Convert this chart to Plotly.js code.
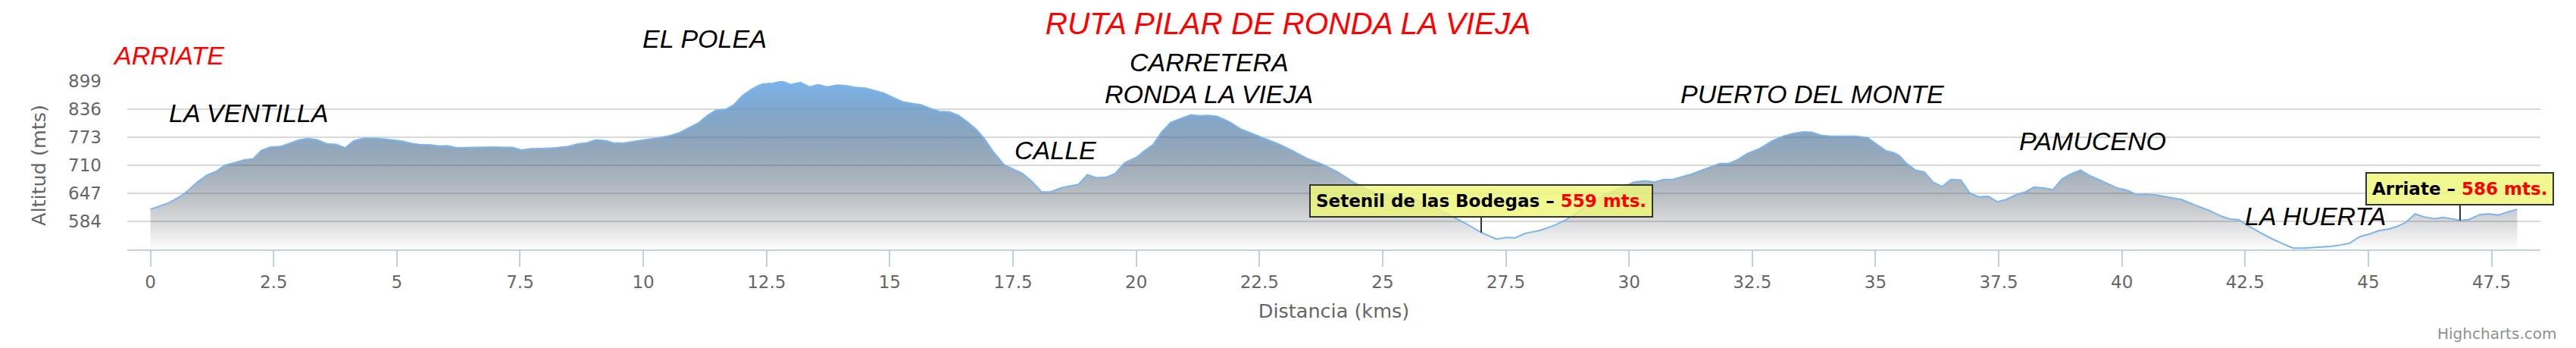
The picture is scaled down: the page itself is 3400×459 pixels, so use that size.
<!DOCTYPE html>
<html>
<head>
<meta charset="utf-8">
<script src="https://cdn.plot.ly/plotly-3.0.1.min.js"></script>
<style>
  html, body { margin: 0; padding: 0; background: #ffffff; }
  #chart { width: 3400px; height: 459px; }
</style>
</head>
<body>
<div id="chart"></div>
<script>
const chartTitle = 'RUTA PILAR DE RONDA LA VIEJA';
const xAxisTitle = 'Distancia (kms)';
const yAxisTitle = 'Altitud (mts)';

// distance along route (km)
const km = [
  0, 0.21, 0.38, 0.59, 0.74, 0.95, 1.15, 1.33, 1.51, 1.72,
  1.9, 2.08, 2.25, 2.43, 2.64, 2.84, 3.02, 3.2, 3.38, 3.59,
  3.77, 3.95, 4.13, 4.33, 4.64, 4.89, 5.1, 5.3, 5.48, 5.66,
  5.87, 6.02, 6.22, 6.58, 6.94, 7.2, 7.35, 7.53, 7.71, 8.02,
  8.22, 8.48, 8.68, 8.84, 9.04, 9.25, 9.4, 9.61, 9.81, 10.02,
  10.27, 10.53, 10.73, 10.94, 11.12, 11.3, 11.48, 11.66, 11.83, 12.01,
  12.19, 12.32, 12.42, 12.63, 12.81, 12.99, 13.19, 13.37, 13.55, 13.73,
  13.94, 14.11, 14.29, 14.52, 14.7, 14.88, 15.01, 15.14, 15.27, 15.45,
  15.63, 15.86, 16.01, 16.21, 16.39, 16.57, 16.75, 16.91, 17.11, 17.32,
  17.5, 17.7, 17.88, 18.08, 18.26, 18.47, 18.65, 18.83, 19.01, 19.19,
  19.39, 19.57, 19.77, 20.01, 20.16, 20.34, 20.52, 20.7, 20.9, 21.11,
  21.29, 21.47, 21.64, 21.9, 22.11, 22.36, 22.62, 22.92, 23.18, 23.49,
  23.8, 24.1, 24.41, 24.77, 25.13, 25.54, 25.9, 26.31, 26.66, 26.87,
  27.0, 27.31, 27.51, 27.69, 27.89, 28.2, 28.46, 28.71, 28.97, 29.23,
  29.53, 29.84, 30.1, 30.33, 30.51, 30.71, 30.89, 31.07, 31.27, 31.48,
  31.69, 31.84, 32.02, 32.2, 32.4, 32.66, 32.91, 33.12, 33.32, 33.53,
  33.71, 33.91, 34.09, 34.35, 34.6, 34.84, 35.04, 35.22, 35.37, 35.48,
  35.63, 35.81, 35.99, 36.17, 36.35, 36.53, 36.73, 36.91, 37.09, 37.29,
  37.47, 37.65, 37.86, 38.04, 38.22, 38.42, 38.6, 38.78, 38.96, 39.16,
  39.34, 39.52, 39.73, 39.93, 40.11, 40.29, 40.5, 40.7, 40.91, 41.21,
  41.52, 41.78, 42.03, 42.19, 42.37, 42.55, 42.8, 43.06, 43.26, 43.47,
  43.72, 43.98, 44.24, 44.44, 44.62, 44.83, 45.01, 45.21, 45.39, 45.57,
  45.75, 45.95, 46.13, 46.34, 46.52, 46.86, 47.03, 47.26, 47.44, 47.64,
  47.82, 48.02
];

// altitude (m)
const alt = [
  611, 619, 626, 639, 651, 672, 688, 696, 710, 716,
  722, 724, 743, 751, 752, 760, 767, 770, 767, 758,
  757, 749, 765, 771, 770, 767, 764, 759, 756, 756,
  753, 754, 749, 750, 751, 750, 750, 744, 747, 748,
  749, 752, 758, 760, 767, 765, 760, 760, 764, 767,
  771, 776, 783, 795, 805, 822, 834, 835, 845, 866,
  880, 888, 892, 894, 899, 891, 896, 886, 891, 886,
  890, 889, 885, 883, 878, 872, 865, 858, 852, 849,
  846, 836, 831, 830, 822, 808, 791, 771, 739, 711,
  702, 691, 674, 650, 650, 659, 663, 667, 689, 682,
  683, 691, 716, 728, 742, 756, 785, 806, 815, 823,
  821, 822, 820, 807, 792, 781, 770, 756, 742, 724,
  711, 694, 672, 651, 642, 639, 622, 601, 581, 568,
  559, 544, 548, 547, 557, 564, 574, 587, 605, 628,
  645, 659, 672, 675, 672, 678, 678, 684, 690, 699,
  708, 714, 714, 722, 736, 748, 765, 775, 781, 785,
  784, 777, 775, 775, 775, 772, 756, 742, 738, 732,
  714, 699, 695, 672, 662, 678, 677, 648, 639, 640,
  628, 633, 644, 650, 661, 659, 655, 679, 690, 699,
  687, 678, 668, 658, 654, 644, 645, 643, 639, 633,
  619, 608, 595, 589, 588, 575, 559, 544, 534, 524,
  524, 526, 528, 531, 535, 550, 555, 563, 566, 572,
  581, 601, 594, 590, 593, 586, 588, 599, 601, 598,
  605, 611
];

const yTicks = [584, 647, 710, 773, 836, 899];

// waypoint flags (tooltip-like boxes)
const waypointNames = ['Setenil de las Bodegas', 'Arriate'];
const waypointKm = [27.0, 46.86];
const waypointAlt = [559, 586];

// place labels written on the chart
const placeNames = ['ARRIATE', 'LA VENTILLA', 'EL POLEA', 'CARRETERA', 'RONDA LA VIEJA',
                    'CALLE', 'PUERTO DEL MONTE', 'PAMUCENO', 'LA HUERTA'];

// ---- Placement / style (kept separate from data) ----
const M = {l: 168, r: 47, t: 107, b: 130};
const W = 3400, H = 459;
const plotW = W - M.l - M.r, plotH = H - M.t - M.b;
// label centres in page pixels
const placePx = [
  [222.4, 73], [327.7, 149.2], [929.5, 50.8], [1595.7, 82.5],
  [1595, 123.8], [1392.7, 198.3], [2392, 124], [2762, 185.8],
  [3055.8, 285]
];
const placeColors = ['#ff0000', '#000', '#000', '#000', '#000', '#000', '#000', '#000', '#000'];
const toPaperX = px => (px - M.l) / plotW;
const toPaperY = py => (H - M.b - py) / plotH;

const labelFont = 'Liberation Sans, Arial, sans-serif';
const axisFont = 'DejaVu Sans, Verdana, sans-serif';

const base = [124, 181, 236];
const stops = [];
for (let i = 0; i <= 8; i++) {
  const p = i / 8;
  stops.push([p, 'rgba(' + (base[0]*p).toFixed(1) + ',' + (base[1]*p).toFixed(1) + ',' +
                     (base[2]*p).toFixed(1) + ',' + p.toFixed(3) + ')']);
}

const trace = {
  type: 'scatter',
  mode: 'lines',
  x: km,
  y: alt,
  line: {color: '#7cb5ec', width: 2},
  fill: 'tozeroy',
  fillgradient: {type: 'vertical', start: 521, stop: 899, colorscale: stops},
  hoverinfo: 'skip',
  showlegend: false
};

const annotations = [];
placeNames.forEach((name, i) => {
  annotations.push({
    x: toPaperX(placePx[i][0]), y: toPaperY(placePx[i][1]), xref: 'paper', yref: 'paper',
    text: '<i>' + name + '</i>', showarrow: false,
    xanchor: 'center', yanchor: 'middle',
    font: {family: labelFont, size: 34, color: placeColors[i]}
  });
});
waypointNames.forEach((name, i) => {
  annotations.push({
    x: waypointKm[i], y: waypointAlt[i], xref: 'x', yref: 'y',
    text: '<b>' + name + ' – <span style="color:#ff0000">' + waypointAlt[i] + ' mts.</span></b>',
    showarrow: true, arrowhead: 0, arrowwidth: 2, arrowcolor: '#333333',
    ax: 0, ay: -42, standoff: 0,
    bgcolor: 'rgba(238,247,120,0.82)', bordercolor: '#333333', borderwidth: 2, borderpad: 7,
    font: {family: axisFont, size: 23, color: '#000000'}
  });
});
annotations.push({
  x: toPaperX(3376), y: toPaperY(440), xref: 'paper', yref: 'paper',
  text: 'Highcharts.com', showarrow: false, xanchor: 'right', yanchor: 'middle',
  font: {family: axisFont, size: 20, color: '#909090'}
});

const layout = {
  width: W,
  height: H,
  margin: {l: M.l, r: M.r, t: M.t, b: M.b, pad: 0},
  paper_bgcolor: '#ffffff',
  plot_bgcolor: '#ffffff',
  showlegend: false,
  title: {
    text: '<i>' + chartTitle + '</i>',
    font: {family: labelFont, size: 40.5, color: '#ff0000'},
    x: 0.5, xref: 'container', xanchor: 'center',
    y: 1 - 30.8 / H, yref: 'container', yanchor: 'middle'
  },
  xaxis: {
    range: [-0.47, 48.49],
    tick0: 0, dtick: 2.5,
    ticks: 'outside', ticklen: 21, tickwidth: 2, tickcolor: '#c0d0e0',
    showline: true, linecolor: '#c0d0e0', linewidth: 2,
    showgrid: false, zeroline: false,
    tickfont: {family: axisFont, size: 23, color: '#666666'},
    title: {text: xAxisTitle, font: {family: axisFont, size: 25.5, color: '#666666'}, standoff: 18},
    automargin: false, fixedrange: true
  },
  yaxis: {
    range: [521, 899],
    tickvals: yTicks,
    ticktext: yTicks.map(String),
    showgrid: true, gridcolor: '#d8d8d8', gridwidth: 1.5,
    zeroline: false, showline: false, ticks: '',
    ticklabelstandoff: 33,
    tickfont: {family: axisFont, size: 23, color: '#666666'},
    title: {text: yAxisTitle, font: {family: axisFont, size: 25.5, color: '#666666'}, standoff: 22},
    automargin: false, fixedrange: true
  },
  annotations: annotations
};

Plotly.newPlot('chart', [trace], layout, {displayModeBar: false, staticPlot: true});
</script>
</body>
</html>
